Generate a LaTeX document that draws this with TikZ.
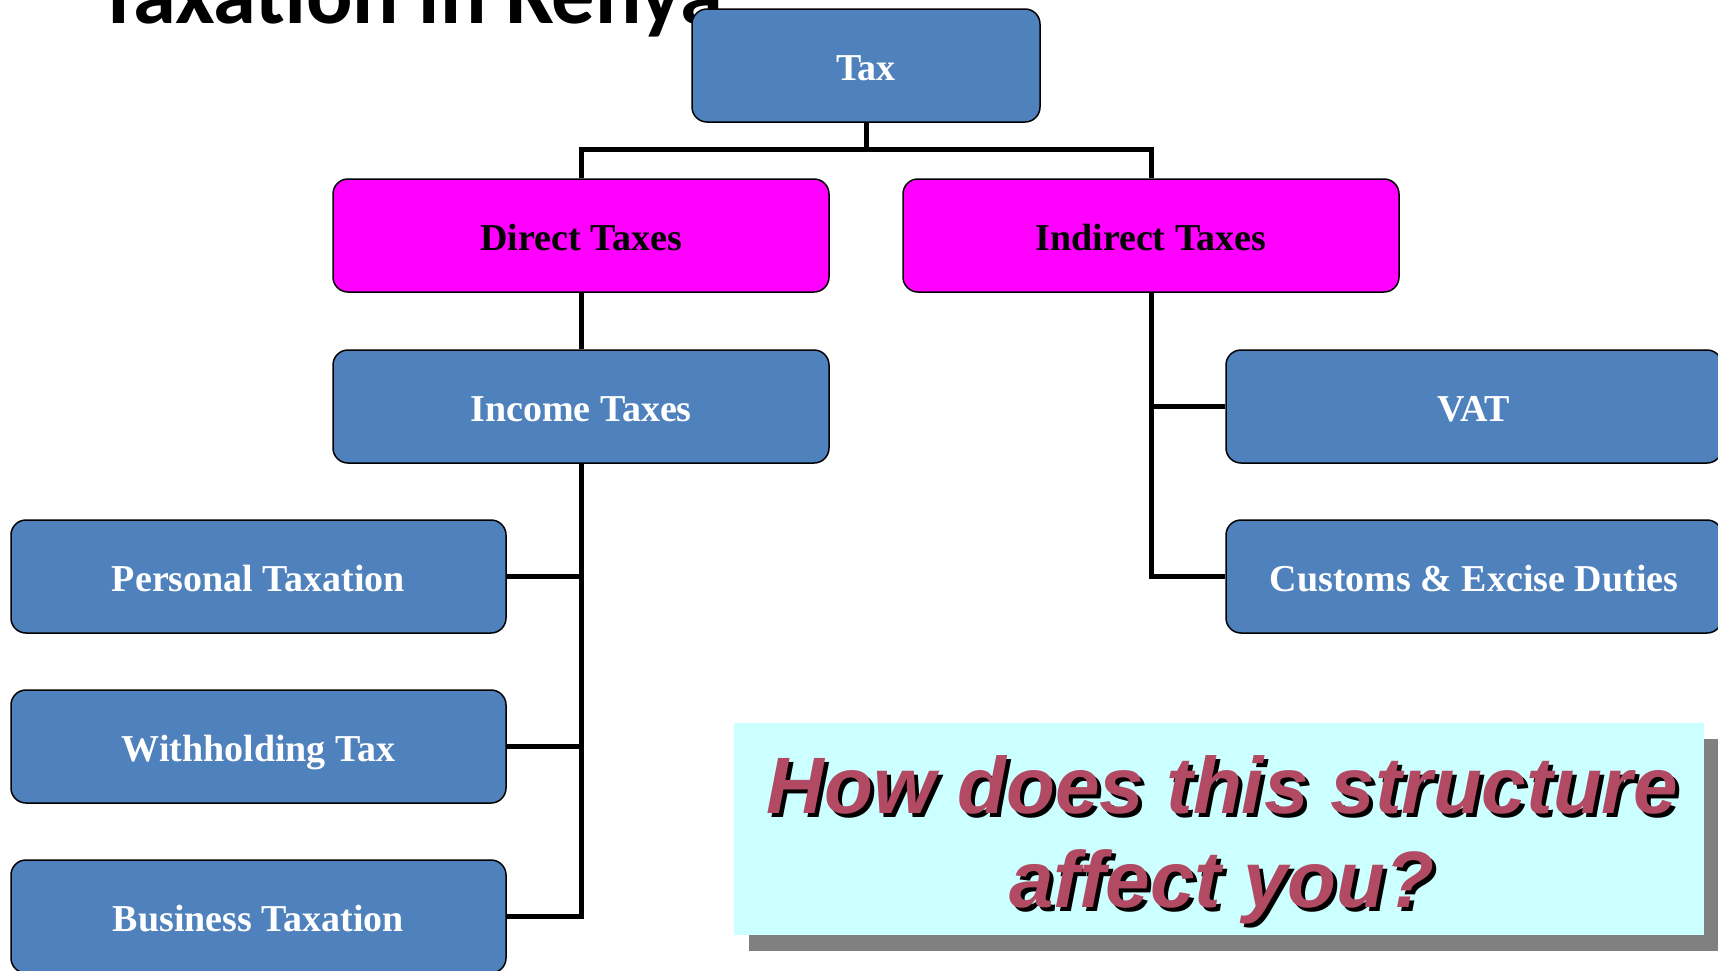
\documentclass[tikz,border=0pt]{standalone}
\usepackage{fontspec}
\setmainfont{Liberation Serif}
\newfontfamily\qfont{Liberation Sans}
\newfontfamily\tfont{Carlito}
\usetikzlibrary{shadows}
\definecolor{boxblue}{HTML}{4F81BD}
\definecolor{boxmag}{HTML}{FF00FF}
\definecolor{qcyan}{HTML}{CCFFFF}
\definecolor{qshadow}{HTML}{808080}
\definecolor{qtext}{RGB}{179,74,100}
\tikzset{
  orgbox/.style={draw=black, line width=1.5pt, rounded corners=15pt, minimum height=113pt, inner sep=0pt,
    text height=30pt, text depth=0pt,
    font=\fontsize{38}{40}\selectfont\bfseries},
  bluebox/.style={orgbox, fill=boxblue, text=white, minimum width=496pt},
  magbox/.style={orgbox, fill=boxmag, text=black, minimum width=496pt},
  conn/.style={line width=5pt, draw=black},
  qbox/.style={fill=qcyan, minimum width=970pt, minimum height=212pt, inner sep=0pt,
    drop shadow={shadow xshift=15pt, shadow yshift=-16pt, fill=qshadow, opacity=1}},
  qline/.style={font=\qfont\fontsize{80}{90}\selectfont\bfseries\itshape, inner sep=0pt, anchor=base},
}
\begin{document}
\begin{tikzpicture}[x=1pt,y=-1pt]
\clip (0,0) rectangle (1718,970);
\fill[white] (0,0) rectangle (1718,970);
% title (clipped at top)
\node[anchor=base west, inner sep=0pt, font=\tfont\fontsize{86.5}{90}\selectfont\bfseries] (title) at (97,23) {Taxation in Kenya};
% nodes
\node[bluebox, minimum width=348pt] (tax) at (866,65.5) {Tax};
\node[magbox] (direct) at (581,235.5) {Direct Taxes};
\node[magbox] (indirect) at (1151,235.5) {Indirect Taxes};
\node[bluebox] (income) at (581,406.5) {Income Taxes};
\node[bluebox] (vat) at (1474,406.5) {VAT};
\node[bluebox] (customs) at (1474,576.5) {Customs \& Excise Duties};
\node[bluebox, minimum width=495pt] (personal) at (258.5,576.5) {Personal Taxation};
\node[bluebox, minimum width=495pt] (withholding) at (258.5,746.5) {Withholding Tax};
\node[bluebox, minimum width=495pt] (business) at (258.5,916.5) {Business Taxation};
% connectors
\coordinate (j) at (866,149);
\draw[conn] (tax.south) -- (j);
\draw[conn] (direct.north) |- (j) -| (indirect.north);
\draw[conn] (direct.south) -- (income.north);
\draw[conn] (income.south) |- (personal.east);
\draw[conn] (income.south) |- (withholding.east);
\draw[conn] (income.south) |- (business.east);
\draw[conn] (indirect.south) |- (vat.west);
\draw[conn] (indirect.south) |- (customs.west);
% question box
\node[qbox] (q) at (1219,829) {};
\node[qline, text=black] (l1s) at (1226,817) {How does this structure};
\node[qline, text=qtext] (l1) at (1222,813) {How does this structure};
\node[qline, text=black] (l2s) at (1226,911) {affect you?};
\node[qline, text=qtext] (l2) at (1222,907) {affect you?};
\end{tikzpicture}
\end{document}
